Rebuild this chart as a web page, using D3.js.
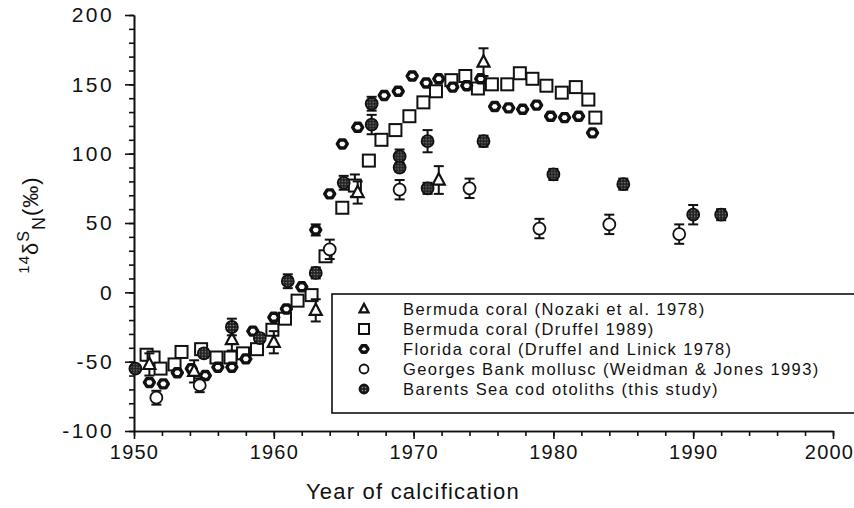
<!DOCTYPE html>
<html>
<head>
<meta charset="utf-8">
<script src="https://cdn.jsdelivr.net/npm/d3@7"></script>
<style>
  body { margin: 0; background: #fff; }
  svg { font-family: "Liberation Sans", Arial, sans-serif; }
  .yaxis .tick text { font-size: 21px; letter-spacing: 2.4px; fill: #111; }
  .xaxis .tick text { font-size: 20px; letter-spacing: 1.2px; fill: #111; }
  .legend text { font-size: 16.5px; letter-spacing: 1.4px; fill: #111; }
</style>
</head>
<body>
<div id="chart"></div>
<script>
// Bermuda coral (Nozaki et al. 1978) - triangles
var nozakiYears = [1951.1, 1954.3, 1957.0, 1960.0, 1963.0, 1966.0, 1971.8, 1975.0];
var nozakiVals  = [-52, -57, -34, -36, -13, 72, 81, 166];
var nozakiErr   = [8, 8, 8, 8, 8, 8, 10, 10];

// Bermuda coral (Druffel 1989) - squares
var druffelYears = [1950.9, 1951.4, 1951.9, 1952.9, 1953.4, 1954.8, 1955.9, 1956.9, 1957.8, 1958.8,
                    1959.9, 1960.8, 1961.7, 1962.7, 1963.7, 1964.9, 1965.8, 1966.8, 1967.7, 1968.7,
                    1969.7, 1970.7, 1971.6, 1972.7, 1973.7, 1974.6, 1975.6, 1976.7, 1977.6, 1978.5,
                    1979.5, 1980.6, 1981.6, 1982.5, 1983.0];
var druffelVals  = [-45, -47, -55, -52, -43, -41, -47, -47, -44, -41,
                    -27, -19, -6, -2, 26, 61, 77, 95, 110, 117,
                    127, 137, 145, 153, 156, 147, 150, 150, 158, 154,
                    149, 144, 148, 139, 126];
var druffelErr   = [4, 0, 0, 0, 0, 0, 0, 0, 0, 0,
                    0, 0, 0, 0, 0, 0, 8, 0, 0, 0,
                    0, 0, 0, 0, 0, 0, 0, 0, 0, 0,
                    0, 0, 0, 0, 0];

// Florida coral (Druffel and Linick 1978) - open diamonds
var floridaYears = [1951.1, 1952.1, 1953.1, 1954.1, 1955.1, 1956.0, 1957.0, 1958.0, 1958.5, 1960.0,
                    1960.9, 1962.0, 1963.0, 1964.0, 1964.9, 1966.0, 1967.9, 1968.9, 1969.9, 1970.9,
                    1971.8, 1972.8, 1973.8, 1974.8, 1975.8, 1976.8, 1977.8, 1978.8, 1979.8, 1980.8,
                    1981.8, 1982.8];
var floridaVals  = [-65, -66, -58, -55, -60, -54, -54, -48, -28, -18,
                    -12, 4, 45, 71, 107, 119, 142, 145, 156, 151,
                    154, 148, 149, 154, 134, 133, 132, 135, 127, 126,
                    127, 115];
var floridaErr   = [0, 0, 0, 0, 0, 0, 0, 0, 0, 0,
                    0, 0, 4, 0, 0, 0, 0, 0, 0, 0,
                    0, 0, 0, 0, 0, 0, 0, 0, 0, 0,
                    0, 0];

// Georges Bank mollusc (Weidman & Jones 1993) - open circles
var georgesYears = [1951.6, 1954.7, 1964.0, 1969.0, 1974.0, 1979.0, 1984.0, 1989.0];
var georgesVals  = [-76, -67, 31, 74, 75, 46, 49, 42];
var georgesErr   = [5, 5, 7, 7, 7, 7, 7, 7];

// Barents Sea cod otoliths (this study) - filled circles
var barentsYears = [1950.1, 1955.0, 1957.0, 1959.0, 1961.0, 1963.0, 1965.0, 1967.0, 1967.0, 1969.0,
                    1969.0, 1971.0, 1971.0, 1975.0, 1980.0, 1985.0, 1990.0, 1992.0];
var barentsVals  = [-55, -44, -25, -33, 8, 14, 79, 121, 136, 98,
                    90, 109, 75, 109, 85, 78, 56, 56];
var barentsErr   = [2, 3, 6, 3, 5, 4, 5, 7, 5, 5,
                    3, 8, 4, 4, 4, 4, 7, 4];

var legendLabels = ["Bermuda coral (Nozaki et al. 1978)",
                    "Bermuda coral (Druffel 1989)",
                    "Florida coral (Druffel and Linick 1978)",
                    "Georges Bank mollusc (Weidman & Jones 1993)",
                    "Barents Sea cod otoliths (this study)"];

var xMajor = [1950, 1960, 1970, 1980, 1990, 2000];
var yMajor = [-100, -50, 0, 50, 100, 150, 200];

var width = 854, height = 508;

var svg = d3.select("#chart")
            .append("svg")
            .attr("width", width)
            .attr("height", height);

// dotted texture for the filled otolith markers
var pat = svg.append("defs").append("pattern")
             .attr("id", "dots")
             .attr("width", 3).attr("height", 3)
             .attr("patternUnits", "userSpaceOnUse");
pat.append("rect").attr("width", 3).attr("height", 3).attr("fill", "#222");
pat.append("circle").attr("cx", 1.5).attr("cy", 1.5).attr("r", 0.7).attr("fill", "#999");

var x = d3.scaleLinear().domain([1950, 2000]).range([134, 833]);
var y = d3.scaleLinear().domain([-100, 200]).range([431, 15]);

// axes: major ticks with labels, minor ticks without
svg.append("g")
   .attr("transform", "translate(134,0)")
   .call(d3.axisLeft(y).tickValues(d3.range(-100, 201, 10)).tickSize(5).tickSizeOuter(0).tickFormat(""))
   .call(g => g.selectAll("line, path").attr("stroke", "#111").attr("stroke-width", 1.6));

svg.append("g")
   .attr("class", "yaxis")
   .attr("transform", "translate(134,0)")
   .call(d3.axisLeft(y).tickValues(yMajor).tickSize(9).tickSizeOuter(0).tickPadding(11)
           .tickFormat(d => String(d)))   // plain hyphen for negatives
   .call(g => g.selectAll("line, path").attr("stroke", "#111").attr("stroke-width", 1.6))
   .call(g => g.selectAll("text").attr("font-family", null).attr("font-size", null));

svg.append("g")
   .attr("transform", "translate(0,431)")
   .call(d3.axisBottom(x).tickValues(d3.range(1950, 2001, 2)).tickSize(5).tickSizeOuter(0).tickFormat(""))
   .call(g => g.selectAll("line, path").attr("stroke", "#111").attr("stroke-width", 1.6));

svg.append("g")
   .attr("class", "xaxis")
   .attr("transform", "translate(0,431)")
   .call(d3.axisBottom(x).tickValues(xMajor).tickSize(8).tickSizeOuter(0).tickPadding(6).tickFormat(d3.format("d")))
   .call(g => g.selectAll("line, path").attr("stroke", "#111").attr("stroke-width", 1.6))
   .call(g => g.selectAll("text").attr("font-family", null).attr("font-size", null)
               .attr("dx", d => d === 2000 ? "-4px" : null));

// axis titles
svg.append("text")
   .attr("x", 413).attr("y", 499)
   .attr("text-anchor", "middle")
   .attr("font-size", "22px")
   .attr("letter-spacing", "1.2px")
   .attr("fill", "#111")
   .text("Year of calcification");

var yl = svg.append("text")
   .attr("transform", "translate(38,225)rotate(-90)")
   .attr("text-anchor", "middle")
   .attr("fill", "#111")
   .attr("font-size", "22px")
   .attr("letter-spacing", "1px");
yl.append("tspan").attr("font-size", "15px").attr("baseline-shift", "9px").text("14");
yl.append("tspan").text("δ");
yl.append("tspan").attr("font-size", "16px").attr("baseline-shift", "9px").text("S");
yl.append("tspan").attr("font-size", "18px").attr("baseline-shift", "-7px").text("N");
yl.append("tspan").text("(‰)");

// helpers
function zip(years, vals, errs) {
  return years.map((d, i) => ({year: d, value: vals[i], err: errs[i]}));
}

function errorBars(data) {
  var g = svg.append("g").attr("stroke", "#111").attr("stroke-width", 2);
  data.filter(d => d.err > 0).forEach(d => {
    var cx = x(d.year);
    g.append("line").attr("x1", cx).attr("x2", cx)
     .attr("y1", y(d.value - d.err)).attr("y2", y(d.value + d.err));
    g.append("line").attr("x1", cx - 5).attr("x2", cx + 5)
     .attr("y1", y(d.value + d.err)).attr("y2", y(d.value + d.err));
    g.append("line").attr("x1", cx - 5).attr("x2", cx + 5)
     .attr("y1", y(d.value - d.err)).attr("y2", y(d.value - d.err));
  });
}

// marker drawers, shared by plot and legend
function drawSquare(g, s) {
  g.append("rect").attr("x", -s / 2).attr("y", -s / 2).attr("width", s).attr("height", s)
   .attr("fill", "#fff").attr("stroke", "#111").attr("stroke-width", 2);
}
function drawTriangle(g, s) {
  var h = s * 0.95;
  g.append("path").attr("d", "M0," + (-h * 0.6) + "L" + (s / 2) + "," + (h * 0.4) + "L" + (-s / 2) + "," + (h * 0.4) + "Z")
   .attr("fill", "#fff").attr("stroke", "#111").attr("stroke-width", 2.2);
}
function drawRing(g, s) {
  // rounded diamond-ish ring with a thick border
  var r = s / 2;
  g.append("path")
   .attr("d", "M" + (-r) + ",0L" + (-r * 0.5) + "," + (-r * 0.8) + "L" + (r * 0.5) + "," + (-r * 0.8) +
              "L" + r + ",0L" + (r * 0.5) + "," + (r * 0.8) + "L" + (-r * 0.5) + "," + (r * 0.8) + "Z")
   .attr("fill", "#fff").attr("stroke", "#111").attr("stroke-width", 3.4)
   .attr("stroke-linejoin", "round");
}
function drawCircle(g, s) {
  g.append("circle").attr("r", s / 2)
   .attr("fill", "#fff").attr("stroke", "#111").attr("stroke-width", 1.8);
}
function drawFilled(g, s) {
  g.append("circle").attr("r", s / 2)
   .attr("fill", "url(#dots)").attr("stroke", "#111").attr("stroke-width", 1.8);
}

function plotSeries(data, drawer, size) {
  errorBars(data);
  svg.append("g").selectAll("g")
     .data(data)
     .enter()
     .append("g")
     .attr("transform", d => "translate(" + x(d.year) + "," + y(d.value) + ")")
     .each(function() { drawer(d3.select(this), size); });
}

plotSeries(zip(druffelYears, druffelVals, druffelErr), drawSquare, 12);
plotSeries(zip(floridaYears, floridaVals, floridaErr), drawRing, 10);
plotSeries(zip(nozakiYears, nozakiVals, nozakiErr), drawTriangle, 12);
plotSeries(zip(georgesYears, georgesVals, georgesErr), drawCircle, 12);
plotSeries(zip(barentsYears, barentsVals, barentsErr), drawFilled, 12);

// legend box
var legend = svg.append("g").attr("class", "legend");
legend.append("rect")
      .attr("x", 332).attr("y", 294)
      .attr("width", 540).attr("height", 119)
      .attr("fill", "#fff").attr("stroke", "#111").attr("stroke-width", 1.6);

var legendDrawers = [drawTriangle, drawSquare, drawRing, drawCircle, drawFilled];
var legendSizes = [9, 10, 8, 9, 9];
legendLabels.forEach((lab, i) => {
  var row = legend.append("g").attr("transform", "translate(364," + (309 + i * 20) + ")");
  legendDrawers[i](row, legendSizes[i]);
  row.append("text").attr("x", 39).attr("y", 6).text(lab);
});
</script>
</body>
</html>
